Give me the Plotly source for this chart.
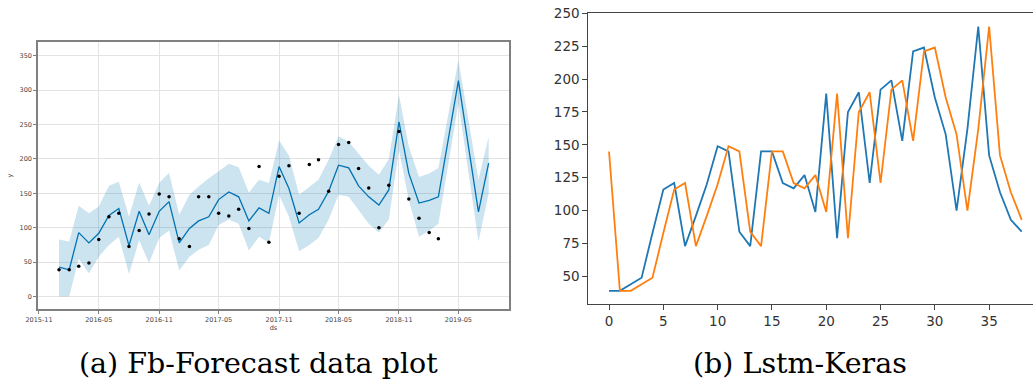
import plotly.graph_objects as go
import pandas as pd

# ---------------- data ----------------
# actual monthly values (2016-01 .. 2019-03)
actual_dates = list(pd.date_range("2016-01-01", periods=39, freq="MS"))
actual = [39, 39, 44, 49, 83, 116, 121, 73, 96, 120, 149, 145, 84, 73, 145, 145,
          121, 117, 127, 99, 189, 79, 175, 190, 121, 192, 199, 153, 221, 224,
          186, 158, 100, 162, 240, 142, 114, 93, 84]

# prophet forecast
fc_dates = list(pd.date_range("2016-01-01", periods=39, freq="MS")) + [
    pd.Timestamp("2019-05-01"), pd.Timestamp("2019-07-01"), pd.Timestamp("2019-08-01")]
yhat = [43, 39, 93, 78, 92, 118, 128, 74, 124, 90, 124, 138, 78, 99, 110, 116,
        141, 152, 145, 110, 129, 121, 189, 157, 107, 119, 127, 153, 191, 187,
        161, 145, 133, 155, 254, 179, 136, 140, 145, 314, 123, 194]
yhat_upper = [83, 80, 132, 121, 131, 161, 167, 116, 166, 132, 165, 180, 119, 148, 160, 172,
              182, 193, 188, 151, 170, 165, 227, 205, 148, 160, 170, 199, 233, 225,
              207, 190, 177, 200, 293, 218, 174, 179, 187, 344, 170, 232]
yhat_lower = [0, 0, 55, 34, 58, 75, 87, 33, 82, 49, 85, 96, 38, 58, 68, 75,
              104, 112, 106, 67, 87, 78, 148, 116, 66, 75, 85, 112, 148, 145,
              126, 106, 93, 112, 213, 140, 87, 96, 106, 281, 80, 150]

# LSTM panel
lstm_x = list(range(39))
lstm_actual = [39, 39, 44, 49, 83, 116, 121, 73, 96, 120, 149, 145, 84, 73, 145, 145,
               121, 117, 127, 99, 189, 79, 175, 190, 121, 192, 199, 153, 221, 224,
               186, 158, 100, 162, 240, 142, 114, 93, 84]
lstm_pred = [145, 39, 39, 44, 49, 83, 116, 121, 73, 96, 120, 149, 145, 84, 73, 145,
             145, 121, 117, 127, 99, 189, 79, 175, 190, 121, 192, 199, 153, 221,
             224, 186, 158, 100, 162, 240, 142, 114, 93]

left_ticks = ["2015-11-01", "2016-05-01", "2016-11-01", "2017-05-01", "2017-11-01",
              "2018-05-01", "2018-11-01", "2019-05-01"]
left_ticktext = ["2015-11", "2016-05", "2016-11", "2017-05", "2017-11",
                 "2018-05", "2018-11", "2019-05"]

W, H = 1033, 385

fig = go.Figure()

# band
fig.add_trace(go.Scatter(x=fc_dates, y=yhat_upper, mode="lines", line=dict(width=0),
                         showlegend=False, hoverinfo="skip", xaxis="x", yaxis="y"))
fig.add_trace(go.Scatter(x=fc_dates, y=yhat_lower, mode="lines", line=dict(width=0),
                         fill="tonexty", fillcolor="rgba(0,114,178,0.2)",
                         showlegend=False, hoverinfo="skip", xaxis="x", yaxis="y"))
fig.add_trace(go.Scatter(x=fc_dates, y=yhat, mode="lines",
                         line=dict(color="#0072B2", width=1.3),
                         showlegend=False, xaxis="x", yaxis="y"))
fig.add_trace(go.Scatter(x=actual_dates, y=actual, mode="markers",
                         marker=dict(color="black", size=3.5),
                         showlegend=False, xaxis="x", yaxis="y"))

# LSTM
fig.add_trace(go.Scatter(x=lstm_x, y=lstm_actual, mode="lines",
                         line=dict(color="#1f77b4", width=1.8),
                         showlegend=False, xaxis="x2", yaxis="y2"))
fig.add_trace(go.Scatter(x=lstm_x, y=lstm_pred, mode="lines",
                         line=dict(color="#ff7f0e", width=1.8),
                         showlegend=False, xaxis="x2", yaxis="y2"))

def dx(px):
    return px / W

def dy(px_top):
    return (H - px_top) / H

small = dict(family="DejaVu Sans", size=6.5, color="#444")
big = dict(family="DejaVu Sans", size=13.5, color="#333")

fig.update_layout(
    width=W, height=H,
    margin=dict(l=0, r=0, t=0, b=0, autoexpand=False),
    paper_bgcolor="white", plot_bgcolor="white",
    showlegend=False,
    xaxis=dict(domain=[dx(38), dx(509)], type="date", automargin=False,
               range=["2015-10-29", "2019-10-02"],
               tickvals=left_ticks, ticktext=left_ticktext,
               tickfont=small, showgrid=True, gridcolor="#e3e3e3", gridwidth=1,
               showline=True, linecolor="#808080", linewidth=1.5, mirror=True,
               ticks="outside", ticklen=3, tickcolor="#808080",
               zeroline=False,
               title=dict(text="ds", font=small, standoff=2)),
    yaxis=dict(domain=[dy(309), dy(42)], range=[-18, 370], automargin=False,
               tickvals=[0, 50, 100, 150, 200, 250, 300, 350],
               tickfont=small, showgrid=True, gridcolor="#e3e3e3", gridwidth=1,
               showline=True, linecolor="#808080", linewidth=1.5, mirror=True,
               ticks="outside", ticklen=3, tickcolor="#808080",
               zeroline=False,
               title=dict(text="y", font=small, standoff=6)),
    xaxis2=dict(domain=[dx(588.4), 1.0], range=[-1.9, 39.04], anchor="y2",
                automargin=False,
                tickvals=[0, 5, 10, 15, 20, 25, 30, 35], tickfont=big,
                showgrid=False, zeroline=False,
                showline=True, linecolor="#444", linewidth=1.2, mirror=True,
                ticks="outside", ticklen=5, tickcolor="#444"),
    yaxis2=dict(domain=[dy(304), dy(12.7)], range=[29, 250.5], anchor="x2",
                automargin=False,
                tickvals=[50, 75, 100, 125, 150, 175, 200, 225, 250], tickfont=big,
                showgrid=False, zeroline=False,
                showline=True, linecolor="#444", linewidth=1.2,
                ticks="outside", ticklen=5, tickcolor="#444"),
)

cap_font = dict(family="DejaVu Serif", size=28.5, color="black")
fig.add_annotation(text="(a) Fb-Forecast data plot", x=dx(258), y=dy(363),
                   xref="paper", yref="paper", showarrow=False, font=cap_font,
                   xanchor="center", yanchor="middle")
fig.add_annotation(text="(b) Lstm-Keras", x=dx(800), y=dy(363),
                   xref="paper", yref="paper", showarrow=False, font=cap_font,
                   xanchor="center", yanchor="middle")

fig.write_html("out.html",
               config={"displayModeBar": False},
               post_script="document.body.style.margin='0';"
                           "document.body.style.overflow='hidden';")
